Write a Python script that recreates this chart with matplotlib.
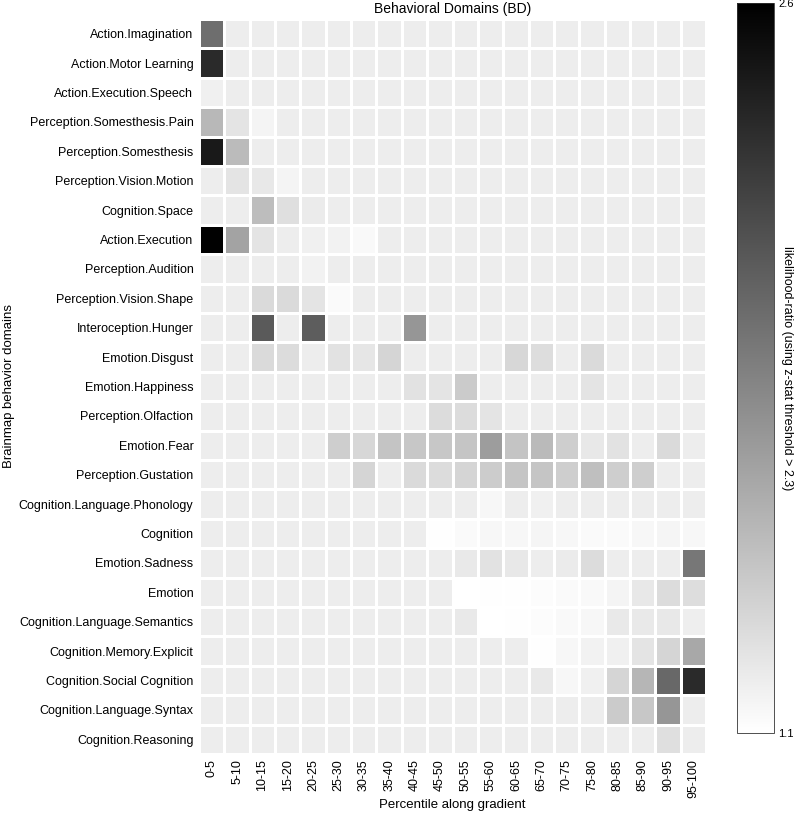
import numpy as np
import matplotlib
matplotlib.use("Agg")
import matplotlib.pyplot as plt
from matplotlib.colors import LinearSegmentedColormap

plt.rcParams['font.family'] = ['Liberation Sans', 'DejaVu Sans']

rows = ["Action.Imagination", "Action.Motor Learning", "Action.Execution.Speech",
        "Perception.Somesthesis.Pain", "Perception.Somesthesis", "Perception.Vision.Motion",
        "Cognition.Space", "Action.Execution", "Perception.Audition",
        "Perception.Vision.Shape", "Interoception.Hunger", "Emotion.Disgust",
        "Emotion.Happiness", "Perception.Olfaction", "Emotion.Fear",
        "Perception.Gustation", "Cognition.Language.Phonology", "Cognition",
        "Emotion.Sadness", "Emotion", "Cognition.Language.Semantics",
        "Cognition.Memory.Explicit", "Cognition.Social Cognition",
        "Cognition.Language.Syntax", "Cognition.Reasoning"]

cols = ["0-5", "5-10", "10-15", "15-20", "20-25", "25-30", "30-35", "35-40", "40-45",
        "45-50", "50-55", "55-60", "60-65", "65-70", "70-75", "75-80", "80-85",
        "85-90", "90-95", "95-100"]

D = 1.21  # baseline likelihood-ratio of most cells

values = [
    [1.95, D, D, D, D, D, D, D, D, D, D, D, D, D, D, D, D, D, D, D],
    [2.35, D, D, D, D, D, D, D, D, D, D, D, D, D, D, D, D, D, D, D],
    [1.19, D, D, D, D, D, D, D, D, D, D, D, D, D, D, D, D, D, D, D],
    [1.52, 1.26, 1.17, D, D, D, D, D, D, D, D, D, D, D, D, D, D, D, D, D],
    [2.45, 1.50, D, D, D, D, D, D, D, D, D, D, D, D, D, D, D, D, D, D],
    [D, 1.26, 1.24, 1.17, D, D, D, D, D, D, D, D, D, D, D, D, D, D, D, D],
    [D, D, 1.49, 1.29, 1.22, D, D, D, D, D, D, D, D, D, D, D, D, D, D, D],
    [2.59, 1.64, 1.26, D, 1.19, 1.18, 1.14, D, D, D, D, D, D, D, D, D, D, D, D, D],
    [D, D, D, D, 1.18, D, D, D, D, D, D, D, D, D, D, D, D, D, D, D],
    [D, D, 1.32, 1.32, 1.26, 1.13, D, D, D, D, D, D, D, D, D, D, D, D, D, D],
    [D, D, 2.07, D, 2.05, D, D, D, 1.72, D, D, D, D, D, D, D, D, D, D, D],
    [D, D, 1.32, 1.31, D, 1.27, 1.25, 1.35, D, D, D, D, 1.34, 1.30, D, 1.32, D, D, D, D],
    [D, D, D, D, D, D, D, D, 1.27, 1.26, 1.41, D, D, D, D, 1.26, D, D, D, D],
    [D, D, D, D, D, D, D, D, D, 1.31, 1.31, 1.26, D, D, D, D, D, D, D, D],
    [D, D, D, D, D, 1.39, 1.34, 1.45, 1.43, 1.43, 1.44, 1.68, 1.45, 1.51, 1.39, 1.24, 1.27, D, 1.32, D],
    [D, D, D, D, D, D, 1.35, D, 1.32, 1.31, 1.35, 1.40, 1.44, 1.44, 1.39, 1.48, 1.39, 1.39, D, D],
    [D, D, D, D, D, D, D, D, D, D, D, 1.15, D, 1.19, D, D, D, D, D, D],
    [D, D, D, D, D, D, D, D, D, 1.11, 1.13, 1.15, 1.15, 1.16, 1.15, 1.13, 1.13, 1.15, 1.16, 1.15],
    [D, D, D, D, D, D, D, D, D, D, 1.23, 1.27, 1.24, D, 1.22, 1.31, D, D, D, 1.90],
    [D, D, D, D, D, D, D, D, D, D, 1.10, 1.11, 1.11, 1.12, 1.13, 1.14, 1.17, 1.24, 1.31, 1.30],
    [D, D, D, D, D, D, D, D, D, D, 1.23, 1.10, 1.11, 1.12, 1.14, 1.15, 1.23, 1.23, 1.24, 1.20],
    [D, D, D, D, D, D, D, D, D, D, D, D, D, 1.11, 1.15, 1.18, 1.19, 1.26, 1.35, 1.61],
    [D, D, D, D, D, D, D, D, D, D, D, D, D, 1.23, 1.15, 1.19, 1.35, 1.53, 1.99, 2.35],
    [D, D, D, D, D, D, D, D, D, D, D, D, D, D, D, D, 1.41, 1.43, 1.72, D],
    [D, D, D, D, D, D, D, D, D, D, D, D, D, D, D, D, D, D, 1.29, D],
]

vmin, vmax = 1.1, 2.6
cmap = LinearSegmentedColormap.from_list("wb", ["#ffffff", "#000000"])

fig = plt.figure(figsize=(8.0, 8.17), dpi=100)
W, H = 800, 817
ax = fig.add_axes([199 / W, 1 - 754 / H, 507 / W, 735 / H])

Z = np.array(values)
mesh = ax.pcolormesh(np.arange(len(cols) + 1), np.arange(len(rows) + 1), Z,
                     cmap=cmap, vmin=vmin, vmax=vmax,
                     edgecolors="white", linewidth=1.0)
ax.set_xlim(0, len(cols))
ax.set_ylim(len(rows), 0)
ax.set_xticks(np.arange(len(cols)) + 0.5)
ax.set_xticklabels(cols, rotation=90, fontsize=9)
ax.set_yticks(np.arange(len(rows)) + 0.5)
ax.set_yticklabels(rows, fontsize=9)
ax.tick_params(length=0, pad=4)
for s in ax.spines.values():
    s.set_visible(False)
ax.set_title("Behavioral Domains (BD)", fontsize=10, pad=4)

fig.text(452 / W, 1 - 805 / H, "Percentile along gradient",
         ha="center", va="center", fontsize=9.5)
fig.text(9 / W, 1 - 386 / H, "Brainmap behavior domains",
         rotation=90, ha="center", va="center", fontsize=9.5)

cax = fig.add_axes([737 / W, 1 - 733 / H, 37 / W, 730 / H])
cb = fig.colorbar(mesh, cax=cax, ticks=[1.1, 2.6])
cb.ax.set_yticklabels(["1.1", "2.6"], fontsize=8)
cb.ax.tick_params(length=0, pad=3)
cb.outline.set_linewidth(0.6)
cb.outline.set_edgecolor("#333333")
fig.text(787 / W, 1 - 368 / H, "likelihood-ratio (using z-stat threshold > 2.3)",
         rotation=270, ha="center", va="center", fontsize=9)

fig.savefig("out.png", dpi=100)
